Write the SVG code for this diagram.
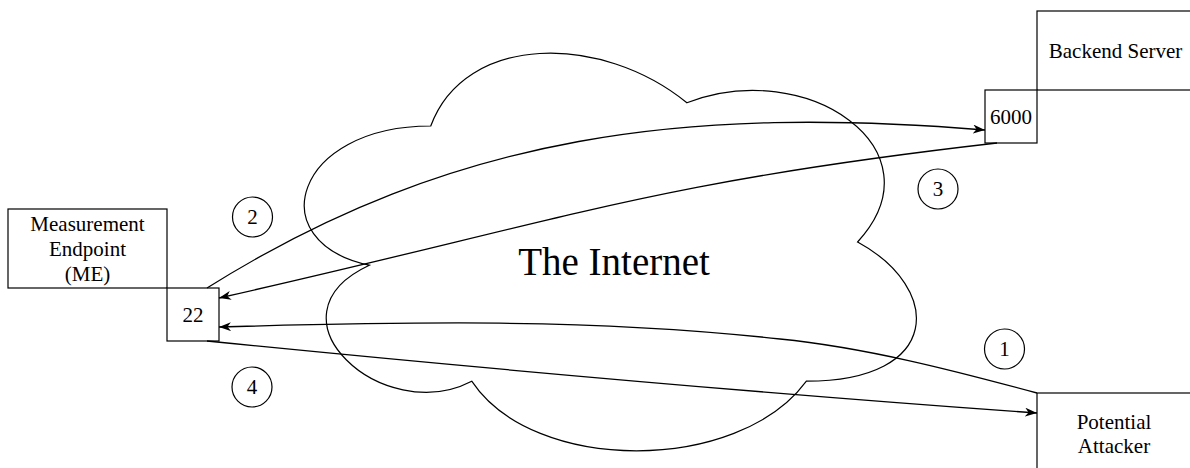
<svg xmlns="http://www.w3.org/2000/svg" width="1190" height="468" viewBox="0 0 1190 468">
<style>
  .box { fill: #ffffff; stroke: #000000; stroke-width: 1.2; }
  .lbl { font-family: "Liberation Serif", "Times New Roman", serif; font-size: 21px; fill: #000000; text-anchor: middle; }
  .edge { fill: none; stroke: #000000; stroke-width: 1.3; }
  .num { fill: #ffffff; stroke: #000000; stroke-width: 1.2; }
  .cloud { fill: #ffffff; stroke: #000000; stroke-width: 1.2; }
</style>
<defs>
  <marker id="arrow" viewBox="0 0 12 9" refX="12" refY="4.5" markerWidth="12" markerHeight="9" markerUnits="userSpaceOnUse" orient="auto">
    <path d="M0,0 L12,4.5 L0,9 L3.5,4.5 Z" fill="#000000"/>
  </marker>
</defs>
<rect width="1190" height="468" fill="#ffffff"/>

<g id="internet">
  <path class="cloud" d="M430.75,126 C294.15,126 260,242 369.28,265.2 C260,316.24 382.94,427.6 471.73,381.2 C533.2,474 738.1,474 806.4,381.2 C943,381.2 943,288.4 857.6,242 C943,149.2 806.4,56.4 686.9,102.8 C601.5,33.2 464.9,33.2 430.75,126 Z"/>
  <text class="lbl" x="614" y="275" style="font-size:39px">The Internet</text>
</g>

<g id="me">
  <rect class="box" x="8" y="209" width="159" height="79"/>
  <text class="lbl" x="87.5" y="231">Measurement</text>
  <text class="lbl" x="87.5" y="256">Endpoint</text>
  <text class="lbl" x="87.5" y="281">(ME)</text>
</g>
<g id="port22">
  <rect class="box" x="167" y="288" width="52" height="53"/>
  <text class="lbl" x="193" y="322">22</text>
</g>
<g id="backend">
  <rect class="box" x="1037" y="11" width="158" height="79"/>
  <text class="lbl" x="1115.5" y="58">Backend Server</text>
</g>
<g id="port6000">
  <rect class="box" x="985" y="90" width="52" height="53"/>
  <text class="lbl" x="1011" y="124">6000</text>
</g>
<g id="attacker">
  <rect class="box" x="1037" y="393" width="158" height="79"/>
  <text class="lbl" x="1114" y="429">Potential</text>
  <text class="lbl" x="1114" y="453">Attacker</text>
</g>

<g id="connectors">
  <path class="edge" marker-end="url(#arrow)" d="M207,288 C456,132 690,106 985,130"/>
  <path class="edge" marker-end="url(#arrow)" d="M997,143 C647,183 569,219 219,298"/>
  <path class="edge" marker-end="url(#arrow)" d="M1037,393 C952,370 865,347.5 780,339 C593,318 406,321.8 219,327"/>
  <path class="edge" marker-end="url(#arrow)" d="M207,341 C487,369 757,393 1037,413"/>
</g>

<g id="step1">
  <circle class="num" cx="1004.5" cy="349" r="20"/>
  <text class="lbl" x="1004.5" y="356">1</text>
</g>
<g id="step2">
  <circle class="num" cx="252.5" cy="217" r="20"/>
  <text class="lbl" x="252.5" y="224">2</text>
</g>
<g id="step3">
  <circle class="num" cx="938" cy="189" r="20"/>
  <text class="lbl" x="938" y="196">3</text>
</g>
<g id="step4">
  <circle class="num" cx="252" cy="387" r="20"/>
  <text class="lbl" x="252" y="394">4</text>
</g>
</svg>
